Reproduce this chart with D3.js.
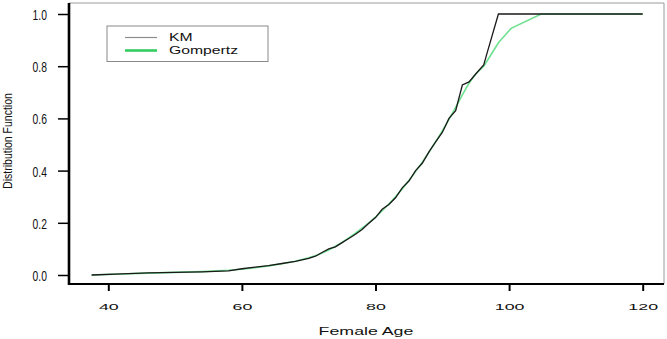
<!DOCTYPE html>
<html>
<head>
<meta charset="utf-8">
<script src="https://cdn.jsdelivr.net/npm/d3@7"></script>
<style>
  body { margin: 0; background: #fff; }
  svg { display: block; font-family: "Liberation Sans", Arial, sans-serif; }
</style>
</head>
<body>
<svg width="667" height="339"></svg>
<script>
// ages where both curves are evaluated
const ages = [37.5, 42, 46, 50, 54, 58, 60, 62, 64, 66, 68, 70, 71, 72, 73, 74, 75, 76, 77, 78, 79, 80,
  81, 82, 83, 84, 85, 86, 87, 88, 89, 90, 91, 92, 93, 94, 95, 96.2, 96.7, 98.4, 100.3, 104.8, 120];
const kmValues = [0.0, 0.004, 0.008, 0.01, 0.012, 0.016, 0.024, 0.03, 0.036, 0.044, 0.052, 0.064, 0.072,
  0.086, 0.1, 0.108, 0.124, 0.14, 0.156, 0.174, 0.198, 0.22, 0.252, 0.27, 0.296, 0.334, 0.36, 0.4, 0.428,
  0.472, 0.51, 0.546, 0.6, 0.63, 0.728, 0.74, 0.77, 0.805, 0.85, 1.0, 1.0, 1.0, 1.0];
const gompValues = [0.0, 0.004, 0.007, 0.01, 0.013, 0.018, 0.022, 0.028, 0.035, 0.043, 0.053, 0.066, 0.074,
  0.084, 0.096, 0.11, 0.125, 0.142, 0.16, 0.18, 0.2, 0.222, 0.246, 0.272, 0.3, 0.33, 0.362, 0.396, 0.432,
  0.47, 0.51, 0.552, 0.596, 0.642, 0.69, 0.735, 0.77, 0.8, 0.82, 0.89, 0.945, 1.0, 1.0];
const xTicks = [40, 60, 80, 100, 120];
const yTicks = [0, 0.2, 0.4, 0.6, 0.8, 1.0];
const legendLabels = ["KM", "Gompertz"];

const svg = d3.select("svg");

const box = { left: 69, right: 664, top: 3, bottom: 284 };

const scaleX = d3.scaleLinear().domain([40, 120]).range([108.3, 642.7]);
const scaleY = d3.scaleLinear().domain([0, 1]).range([275, 14]);

// frame: thin grey top/right, thick black left/bottom
svg.append("line")
  .attr("x1", box.left).attr("x2", box.right).attr("y1", box.top).attr("y2", box.top)
  .attr("stroke", "#9a9a9a").attr("stroke-width", 1);
svg.append("line")
  .attr("x1", box.right).attr("x2", box.right).attr("y1", box.top).attr("y2", box.bottom)
  .attr("stroke", "#9a9a9a").attr("stroke-width", 1);

// axes
const axisX = d3.axisBottom(scaleX).tickValues(xTicks).tickSize(7).tickFormat(d3.format("d"));
const gx = svg.append("g")
  .attr("transform", `translate(0, ${box.bottom})`)
  .call(axisX);
gx.select(".domain").remove();
gx.selectAll(".tick line").attr("stroke", "#000").attr("stroke-width", 2);
gx.selectAll(".tick text")
  .attr("y", 23)
  .attr("dy", "0.35em")
  .attr("fill", "#111")
  .style("font-size", "8.5px")
  .attr("transform", "scale(2.1,1)");

const axisY = d3.axisLeft(scaleY).tickValues(yTicks).tickSize(11).tickFormat(d3.format(".1f"));
const gy = svg.append("g")
  .attr("transform", `translate(${box.left}, 0)`)
  .call(axisY);
gy.select(".domain").remove();
gy.selectAll(".tick line").attr("stroke", "#000").attr("stroke-width", 1.5);
gy.selectAll(".tick text")
  .attr("x", -33)
  .attr("dy", "0.36em")
  .attr("fill", "#111")
  .style("font-size", "15.4px")
  .attr("transform", "scale(0.67,1)");

svg.append("line")
  .attr("x1", box.left).attr("x2", box.left).attr("y1", box.top).attr("y2", box.bottom + 1)
  .attr("stroke", "#000").attr("stroke-width", 2.6);
svg.append("line")
  .attr("x1", box.left).attr("x2", box.right).attr("y1", box.bottom).attr("y2", box.bottom)
  .attr("stroke", "#000").attr("stroke-width", 2.2);

// axis titles
svg.append("text")
  .attr("transform", "translate(366, 331) scale(1.66,1)")
  .attr("text-anchor", "middle")
  .attr("dy", "0.35em")
  .style("font-size", "10.7px")
  .attr("fill", "#111")
  .text("Female Age");

svg.append("text")
  .attr("transform", "translate(8, 141) rotate(-90) scale(0.84,1)")
  .attr("text-anchor", "middle")
  .attr("dy", "0.35em")
  .style("font-size", "12.5px")
  .attr("fill", "#111")
  .text("Distribution Function");

// curves: light green fit underneath, KM on top
const pts = ages.map((a, i) => ({ age: a, km: kmValues[i], gomp: gompValues[i] }));

const lineKM = d3.line().x(d => scaleX(d.age)).y(d => scaleY(d.km));
const lineG = d3.line().x(d => scaleX(d.age)).y(d => scaleY(d.gomp));

svg.append("path")
  .datum(pts)
  .attr("fill", "none")
  .attr("stroke", "#6fe08f")
  .attr("stroke-width", 1.6)
  .attr("d", lineG);

svg.append("path")
  .datum(pts)
  .attr("fill", "none")
  .attr("stroke", "#1a1a1a")
  .attr("stroke-width", 1.3)
  .attr("d", lineKM);

// legend
const legend = svg.append("g");
legend.append("rect")
  .attr("x", 107).attr("y", 26).attr("width", 161).attr("height", 35.5)
  .attr("fill", "#fff").attr("stroke", "#8a8a8a").attr("stroke-width", 1);
const legendStyles = [
  { color: "#8c8c8c", width: 1.2, y: 37.5 },
  { color: "#33cc5f", width: 2.6, y: 50.5 }
];
legendLabels.forEach((lab, i) => {
  const s = legendStyles[i];
  legend.append("line")
    .attr("x1", 125).attr("x2", 157).attr("y1", s.y).attr("y2", s.y)
    .attr("stroke", s.color).attr("stroke-width", s.width);
  legend.append("text")
    .attr("transform", `translate(169, ${s.y}) scale(1.5,1)`)
    .attr("dy", "0.35em")
    .style("font-size", "10.5px")
    .attr("fill", "#111")
    .text(lab);
});
</script>
</body>
</html>
